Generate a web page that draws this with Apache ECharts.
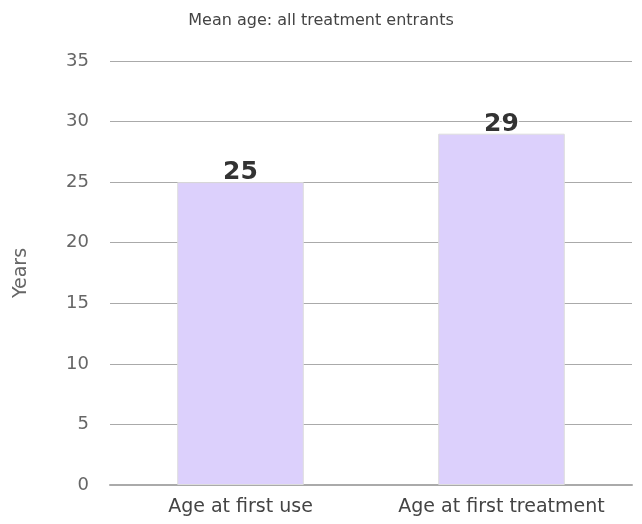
<!DOCTYPE html>
<html>
<head>
<meta charset="utf-8">
<script src="https://cdn.jsdelivr.net/npm/echarts@6/dist/echarts.min.js"></script>
<style>html,body{margin:0;padding:0;background:#fff}#c{width:642px;height:524px}</style>
</head>
<body>
<div id="c"></div>
<script>
var categories = ['Age at first use', 'Age at first treatment'];
var values = [25, 29];
var yTicks = {min: 0, max: 35, interval: 5};
var chart = echarts.init(document.getElementById('c'));
chart.setOption({
  animation: false,
  title: {
    text: 'Mean age: all treatment entrants',
    left: 'center', top: 8,
    textStyle: {fontFamily: 'DejaVu Sans', fontSize: 16, fontWeight: 'normal', color: '#444'}
  },
  grid: {left: 110, right: 10, top: 61, bottom: 39},
  xAxis: {
    type: 'category', data: categories,
    axisLine: {lineStyle: {color: '#aaa', width: 2}},
    axisTick: {show: false},
    axisLabel: {interval: 0, hideOverlap: false, fontFamily: 'DejaVu Sans', fontSize: 19, color: '#444', margin: 13}
  },
  yAxis: {
    type: 'value', min: yTicks.min, max: yTicks.max, interval: yTicks.interval,
    name: 'Years', nameLocation: 'middle', nameGap: 79, nameRotate: 90,
    nameTextStyle: {fontFamily: 'DejaVu Sans', fontSize: 19, color: '#666'},
    axisLine: {show: false}, axisTick: {show: false},
    axisLabel: {fontFamily: 'DejaVu Sans', fontSize: 18, color: '#666', margin: 21},
    splitLine: {lineStyle: {color: '#aaa', width: 1}}
  },
  series: [{
    type: 'bar', data: values, barWidth: '48.5%',
    itemStyle: {color: '#dcd0fc', borderColor: '#ddd', borderWidth: 1},
    label: {
      show: true, position: 'top', distance: -3,
      fontFamily: 'DejaVu Sans', fontSize: 25, fontWeight: 'bold', color: '#333',
      textBorderColor: '#fff', textBorderWidth: 3
    }
  }]
});
</script>
</body>
</html>
